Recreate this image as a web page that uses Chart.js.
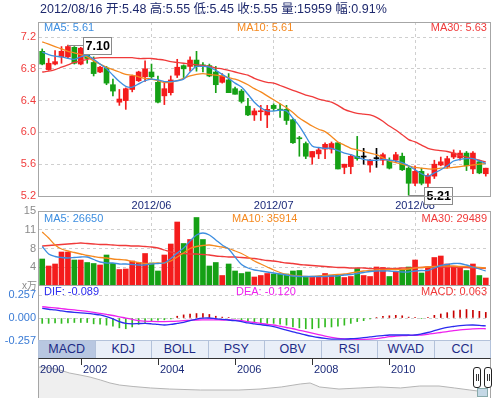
<!DOCTYPE html>
<html><head><meta charset="utf-8">
<script src="https://cdn.jsdelivr.net/npm/chart.js@4"></script>
<style>
body{margin:0;background:#fff;overflow:hidden;font-family:"Liberation Sans",Arial,"Noto Sans CJK SC",sans-serif;}
#wrap{position:relative;width:493px;height:398px;overflow:hidden;}
canvas{position:absolute;left:0;}
.t{position:absolute;white-space:nowrap;font-size:11px;line-height:13px;}
.frame{position:absolute;border:1px solid #a6a6a6;box-sizing:border-box;pointer-events:none;}
#tabs{position:absolute;left:38px;top:340px;width:453px;height:19px;display:flex;background:#e9eff8;border:1px solid #b3c2da;box-sizing:border-box;}
#tabs div{flex:1;text-align:center;font-size:12.5px;line-height:17px;color:#1c2a86;border-right:1px solid #b3c2da;}
#tabs div:last-child{border-right:none;}
#tabs div.on{background:#b8c7e1;}
.handle{position:absolute;width:8px;height:21px;border:1px solid #222;border-radius:3px;background:#fff;box-sizing:border-box;}
.handle:before,.handle:after{content:"";position:absolute;top:6px;width:1px;height:7px;background:#333;}
.handle:before{left:2px}.handle:after{left:4px}
</style></head>
<body><div id="wrap">
<canvas id="cMain" width="493" height="190" style="top:22px"></canvas>
<canvas id="cVol" width="493" height="83" style="top:203px"></canvas>
<canvas id="cMacd" width="493" height="71" style="top:278px"></canvas>
<canvas id="cNav" width="493" height="39" style="top:359px"></canvas>
<div class="frame" style="left:38px;top:22px;width:453px;height:175px"></div>
<div class="frame" style="left:38px;top:211px;width:453px;height:75px"></div>
<div class="frame" style="left:38px;top:285px;width:453px;height:56px"></div>
<div id="tabs"></div>
<div class="frame" style="left:38px;top:358px;width:453px;height:41px;border-top:1px solid #333;border-bottom:none"></div>
<div style="position:absolute;left:477px;top:388px;width:11px;height:9px;background:#c4d8e6;border:1px solid #8aa;box-sizing:border-box"></div>
<div class="handle" style="left:473px;top:367px"></div>
<div class="handle" style="left:484px;top:367px"></div>
<div class="t" id="title" style="left:40px;top:2px;font-size:12.5px;line-height:15px;color:#1f2a6e"></div>
<div class="t" style="left:44px;top:21px;color:#3d8ee0">MA5: 5.61</div>
<div class="t" style="left:237px;top:21px;color:#f5891f">MA10: 5.61</div>
<div class="t" style="right:6px;top:21px;color:#f03a3a">MA30: 5.63</div>
<div class="t" style="left:44px;top:212px;color:#3d8ee0">MA5: 26650</div>
<div class="t" style="left:232px;top:212px;color:#f5891f">MA10: 35914</div>
<div class="t" style="right:6px;top:212px;color:#f03a3a">MA30: 29489</div>
<div class="t" style="left:22px;top:279px;color:#8a8a8a;font-size:10px">x万</div>
<div class="t" style="left:44px;top:285px;color:#2b2bef">DIF: -0.089</div>
<div class="t" style="left:236px;top:285px;color:#ee22ee">DEA: -0.120</div>
<div class="t" style="right:6px;top:285px;color:#f03a3a">MACD: 0.063</div>
</div>
<script>
const dates = ['2012/05/09','2012/05/10','2012/05/11','2012/05/14','2012/05/15','2012/05/16','2012/05/17','2012/05/18','2012/05/21','2012/05/22','2012/05/23','2012/05/24','2012/05/25','2012/05/28','2012/05/29','2012/05/30','2012/05/31',
'2012/06/01','2012/06/04','2012/06/05','2012/06/06','2012/06/07','2012/06/08','2012/06/11','2012/06/12','2012/06/13','2012/06/14','2012/06/15','2012/06/18','2012/06/19','2012/06/20','2012/06/21','2012/06/25','2012/06/26','2012/06/27','2012/06/28',
'2012/07/02','2012/07/03','2012/07/04','2012/07/05','2012/07/06','2012/07/09','2012/07/10','2012/07/11','2012/07/12','2012/07/13','2012/07/16','2012/07/17','2012/07/18','2012/07/19','2012/07/20','2012/07/23','2012/07/24','2012/07/25','2012/07/26','2012/07/27','2012/07/30','2012/07/31',
'2012/08/01','2012/08/02','2012/08/03','2012/08/06','2012/08/07','2012/08/08','2012/08/09','2012/08/10','2012/08/13','2012/08/14','2012/08/15','2012/08/16'];
const openP = [7.02,6.79,6.86,6.95,6.95,7.07,6.86,7.01,6.88,6.76, 6.81,6.60,6.38,6.40,6.54,6.65,6.70,6.76,6.63,6.46, 6.50,6.72,6.84,6.83,6.91,6.85,6.84,6.76,6.63,6.66, 6.55,6.52,6.33,6.22,6.26,6.22,6.34,6.29,6.29,6.16, 5.93,5.86,5.69,5.73,5.79,5.79,5.87,5.56,5.57,5.70, 5.69,5.59,5.67,5.65,5.65,5.65,5.70,5.55,5.36,5.51, 5.36,5.45,5.59,5.57,5.69,5.68,5.74,5.54,5.63,5.48];
const highP = [7.05,6.93,7.03,7.08,7.10,7.08,7.07,7.03,6.95,6.83, 6.83,6.67,6.54,6.56,6.72,6.77,6.90,6.86,6.71,6.64, 6.71,6.92,6.85,6.95,7.02,6.88,6.86,6.83,6.74,6.74, 6.57,6.54,6.43,6.30,6.34,6.34,6.36,6.36,6.34,6.17, 5.95,5.88,5.76,5.81,5.87,5.88,5.87,5.60,5.72,5.95, 5.80,5.66,5.80,5.74,5.68,5.75,5.74,5.57,5.58,5.55, 5.48,5.65,5.69,5.70,5.78,5.77,5.76,5.76,5.65,5.55];
const lowP = [6.85,6.78,6.85,6.87,6.93,6.86,6.85,6.87,6.71,6.75, 6.60,6.46,6.34,6.29,6.51,6.64,6.64,6.68,6.37,6.35, 6.47,6.69,6.69,6.77,6.77,6.76,6.70,6.50,6.62,6.50, 6.48,6.37,6.21,6.15,6.15,6.06,6.27,6.19,6.10,5.86, 5.70,5.67,5.60,5.67,5.67,5.74,5.54,5.48,5.48,5.65, 5.60,5.50,5.56,5.59,5.54,5.62,5.52,5.21,5.33,5.34, 5.30,5.42,5.58,5.55,5.67,5.65,5.52,5.48,5.48,5.45];
const closeP = [6.86,6.87,6.89,7.02,7.08,6.87,7.06,6.93,6.74,6.82, 6.62,6.52,6.42,6.55,6.71,6.76,6.80,6.70,6.38,6.55, 6.66,6.82,6.80,6.91,6.83,6.83,6.71,6.60,6.71,6.50, 6.48,6.39,6.22,6.27,6.27,6.29,6.30,6.28,6.15,5.87, 5.92,5.70,5.76,5.78,5.85,5.86,5.54,5.60,5.70,5.67, 5.69,5.65,5.67,5.72,5.55,5.72,5.53,5.36,5.51,5.36, 5.46,5.60,5.63,5.67,5.74,5.74,5.58,5.74,5.49,5.55];
const ma5 = [7.01,6.98,6.96,6.95,6.93,6.92,6.95,6.97,6.92,6.86, 6.80,6.72,6.64,6.58,6.57,6.61,6.65,6.67,6.66,6.64, 6.64,6.65,6.67,6.76,6.83,6.83,6.82,6.78,6.73,6.68, 6.62,6.57,6.48,6.38,6.31,6.27,6.27,6.28,6.27,6.18, 6.08,5.95,5.83,5.81,5.80,5.80,5.77,5.74,5.72,5.69, 5.66,5.65,5.65,5.66,5.65,5.64,5.62,5.58,5.53,5.48, 5.45,5.49,5.53,5.58,5.64,5.66,5.67,5.67,5.64,5.61];
const ma10 = [7.14,7.11,7.08,7.05,7.02,7.00,6.98,6.95,6.90,6.86, 6.82,6.79,6.76,6.73,6.72,6.70,6.68,6.67,6.65,6.63, 6.63,6.65,6.68,6.71,6.73,6.74,6.73,6.72,6.71,6.69, 6.67,6.64,6.60,6.55,6.51,6.46,6.41,6.36,6.31,6.25, 6.18,6.13,6.08,6.04,6.01,5.95,5.88,5.84,5.80,5.78, 5.76,5.74,5.72,5.68,5.64,5.62,5.60,5.58,5.56,5.55, 5.54,5.54,5.55,5.55,5.56,5.57,5.58,5.59,5.60,5.61];
const ma30 = [6.76,6.77,6.79,6.82,6.85,6.88,6.90,6.92,6.93,6.94, 6.94,6.94,6.94,6.94,6.94,6.93,6.93,6.93,6.92,6.91, 6.89,6.88,6.87,6.86,6.85,6.84,6.83,6.81,6.80,6.78, 6.76,6.74,6.72,6.68,6.65,6.63,6.62,6.59,6.56,6.53, 6.50,6.47,6.45,6.42,6.40,6.38,6.34,6.29,6.26,6.24, 6.23,6.22,6.19,6.14,6.08,6.03,5.97,5.91,5.88,5.84, 5.80,5.78,5.77,5.76,5.74,5.71,5.69,5.67,5.65,5.63];
const volume = [5.4,4.0,4.4,6.8,6.8,5.2,5.2,4.7,4.5,4.2, 6.2,4.5,3.3,3.4,5.0,4.7,6.5,4.6,3.0,6.2, 8.4,12.8,8.5,9.3,13.7,9.3,4.0,4.7,2.1,4.4, 3.0,2.5,2.8,1.8,2.1,2.5,2.4,2.4,2.4,3.0, 3.1,1.8,1.9,1.8,2.5,2.1,2.3,1.7,1.9,3.5, 2.1,1.9,3.8,3.7,1.9,2.8,3.3,3.8,5.2,2.6, 3.8,5.7,6.0,4.4,3.8,3.7,3.1,4.4,2.1,1.6];
const volMa5 = [7.9,6.4,5.9,5.7,5.6,5.7,5.8,5.8,5.3,4.8, 4.6,4.6,4.4,4.4,4.3,4.2,4.2,4.4,4.5,4.6, 5.5,6.6,7.6,9.0,10.2,10.6,10.2,9.2,8.2,7.4, 5.8,4.3,3.6,3.2,3.0,2.8,2.6,2.4,2.2,2.0, 1.9,1.9,1.9,1.9,1.9,2.0,2.0,2.2,2.3,2.5, 2.7,2.9,3.0,3.0,3.0,2.9,2.8,2.8,3.0,3.1, 3.1,3.6,4.1,4.3,4.5,4.5,4.2,3.8,3.4,3.0];
const volMa10 = [10.8,9.6,8.2,7.4,7.0,6.7,6.4,6.1,5.9,5.7, 5.6,5.4,5.3,5.2,4.9,4.7,4.5,4.5,4.6,4.6, 5.0,5.8,6.6,7.5,7.9,8.1,8.2,8.0,7.8,7.5, 7.0,6.5,5.8,5.0,4.4,3.8,3.2,2.7,2.3,2.1, 2.0,1.9,1.9,2.0,2.1,2.2,2.3,2.4,2.6,2.8, 3.0,3.1,3.2,3.2,3.3,3.3,3.3,3.4,3.6,3.7, 3.8,3.9,4.0,4.0,4.0,3.9,3.9,3.8,3.7,3.6];
const volMa30 = [8.0,8.1,8.2,8.3,8.4,8.5,8.6,8.5,8.4,8.3, 8.3,8.2,8.1,8.1,8.0,8.0,7.9,7.8,7.6,7.2, 6.8,6.5,6.5,6.4,6.4,6.3,6.2,6.0,5.9,5.8, 5.8,5.7,5.6,5.5,5.3,5.1,5.0,4.8,4.6,4.5, 4.3,4.2,4.1,4.0,3.9,3.8,3.7,3.7,3.6,3.6, 3.6,3.5,3.5,3.5,3.5,3.5,3.6,3.6,3.7,3.7, 3.8,3.8,3.8,3.8,3.8,3.7,3.7,3.6,3.6,3.5];
const dif = [0.108,0.098,0.09,0.08,0.07,0.063,0.058,0.052,0.044,0.034, 0.015,-0.01,-0.04,-0.06,-0.065,-0.062,-0.06,-0.065,-0.072,-0.078, -0.072,-0.06,-0.048,-0.03,-0.012,-0.002,0.0,-0.008,-0.015,-0.022, -0.03,-0.04,-0.055,-0.065,-0.075,-0.085,-0.097,-0.115,-0.135,-0.155, -0.172,-0.19,-0.205,-0.218,-0.228,-0.235,-0.237,-0.235,-0.232,-0.227, -0.22,-0.212,-0.203,-0.196,-0.19,-0.19,-0.19,-0.19,-0.19,-0.178, -0.162,-0.142,-0.122,-0.105,-0.095,-0.086,-0.08,-0.078,-0.082,-0.089];
const dea = [0.126,0.12,0.113,0.105,0.097,0.09,0.082,0.074,0.064,0.052, 0.04,0.028,0.012,0.0,-0.015,-0.03,-0.035,-0.038,-0.04,-0.04, -0.038,-0.035,-0.03,-0.026,-0.022,-0.021,-0.021,-0.021,-0.022,-0.022, -0.025,-0.03,-0.04,-0.05,-0.06,-0.07,-0.078,-0.092,-0.106,-0.12, -0.137,-0.153,-0.17,-0.187,-0.203,-0.217,-0.227,-0.233,-0.237,-0.238, -0.238,-0.236,-0.23,-0.22,-0.209,-0.203,-0.198,-0.195,-0.192,-0.19, -0.182,-0.172,-0.162,-0.152,-0.14,-0.132,-0.126,-0.121,-0.118,-0.12];
const macdHist = [-0.06,-0.06,-0.055,-0.06,-0.055,-0.05,-0.05,-0.05,-0.065,-0.07, -0.08,-0.09,-0.11,-0.12,-0.10,-0.07,-0.05,-0.03,-0.025,-0.02, -0.01,0.02,0.035,0.045,0.05,0.05,0.04,0.02,0.01,0.005, -0.005,-0.02,-0.03,-0.05,-0.06,-0.06,-0.06,-0.07,-0.08,-0.10, -0.11,-0.12,-0.12,-0.11,-0.10,-0.10,-0.09,-0.08,-0.06,-0.04, -0.03,-0.01,0.005,0.02,0.025,0.03,0.025,0.01,0.005,-0.005, 0.005,0.03,0.045,0.06,0.08,0.09,0.095,0.085,0.075,0.063];
const priceTicks = [5.2, 5.6, 6.0, 6.4, 6.8, 7.2];
const volTicks = [3.75, 7.5, 11.25, 15];
const macdTicks = [-0.257, 0, 0.257];
const navYears = [2000.88,2001.2,2001.45,2001.7,2001.97,2002.23,2002.5,2002.75,2003.0,2003.35,2003.8,2004.3,2005.1,2006.1,2006.65,2007.2,2007.7,2007.95,2008.2,2008.7,2009.25,2009.75,2010.3,2010.8,2011.3,2011.7,2012.1,2012.3];
const navValues = [31.8,30.8,28.7,25.6,23.6,21.5,18.5,15.4,13.3,11.8,10.3,9.2,8.2,8.2,9.2,11.3,14.4,15.4,11.3,9.2,10.3,11.3,10.3,12.3,12.3,10.3,8.2,7.2];
const navTickYears = [2000.88, 2002, 2004, 2006, 2008, 2010];
const navTickLabels = ['2000', '2002', '2004', '2006', '2008', '2010'];
const tabNames = ['MACD','KDJ','BOLL','PSY','OBV','RSI','WVAD','CCI'];
const titleParts = [['', '2012/08/16'], ['开', '5.48'], ['高', '5.55'], ['低', '5.45'], ['收', '5.55'], ['量', '15959'], ['幅', '0.91%']];

document.getElementById('title').textContent = titleParts.map(p => p[0] ? p[0] + ':' + p[1] : p[1]).join(' ');
const tabsEl = document.getElementById('tabs');
tabNames.forEach((n, i) => { const d = document.createElement('div'); d.textContent = n; if (i === 0) d.className = 'on'; tabsEl.appendChild(d); });

const UP = '#f41c1c', DOWN = '#15a015', FLAT = '#000000';
const GRID = '#cfcfcf';
const FONT = '"Liberation Sans", Arial, sans-serif';
const candleColor = closeP.map((c, i) => c > openP[i] ? UP : (c < openP[i] ? DOWN : FLAT));
const volColor = closeP.map((c, i) => c >= openP[i] ? UP : DOWN);
const monthStart = i => i > 0 && dates[i].slice(5, 7) !== dates[i - 1].slice(5, 7);

const yFit = w => (s) => { s.width = w; s.paddingTop = 0; s.paddingBottom = 0; };
const baseOpts = (padding) => ({
  responsive: false, animation: false, devicePixelRatio: 1, events: [],
  layout: { padding },
  plugins: { legend: { display: false }, tooltip: { enabled: false } }
});
const lineDs = (data, color, yID) => ({ type: 'line', data, borderColor: color, borderWidth: 1.3, pointRadius: 0, tension: 0.3, fill: false, yAxisID: yID || 'y' });
const monthGridX = (showLabels) => ({
  type: 'category', offset: true,
  grid: { display: true, offset: false, drawTicks: false, color: c => monthStart(c.index) ? GRID : 'rgba(0,0,0,0)' },
  border: { display: false, dash: [3, 3] },
  ticks: showLabels ? { display: true, autoSkip: false, maxRotation: 0, minRotation: 0, padding: 3, color: '#1b2a7a', font: { size: 11, family: FONT },
    callback: (v, i) => monthStart(i) ? dates[i].slice(0, 7) : '' } : { display: false },
  afterFit: s => { s.height = showLabels ? 16 : 0; s.paddingLeft = 0; s.paddingRight = 0; }
});

const extremaPlugin = {
  id: 'extrema',
  afterDatasetsDraw(chart) {
    const { ctx } = chart; const x = chart.scales.x, y = chart.scales.y;
    let hi = 0, lo = 0;
    highP.forEach((v, i) => { if (v > highP[hi]) hi = i; });
    lowP.forEach((v, i) => { if (v < lowP[lo]) lo = i; });
    const draw = (i, v) => {
      const px = x.getPixelForValue(i), py = Math.round(y.getPixelForValue(v)) + 0.5;
      const text = v.toFixed(2);
      ctx.save();
      ctx.font = 'bold 12.5px ' + FONT;
      const w = Math.round(ctx.measureText(text).width + 4), h = 17;
      const bx = Math.round(px + 15) + 0.5, by = Math.round(py - h / 2);
      ctx.strokeStyle = '#8a8a8a'; ctx.lineWidth = 1;
      ctx.beginPath(); ctx.moveTo(px, py); ctx.lineTo(bx, py); ctx.stroke();
      ctx.fillStyle = '#fff'; ctx.fillRect(bx, by + 0.5, w, h); ctx.strokeRect(bx, by + 0.5, w, h);
      ctx.fillStyle = '#000'; ctx.textBaseline = 'middle'; ctx.textAlign = 'left';
      ctx.fillText(text, bx + 2, by + h / 2 + 1.5);
      ctx.restore();
    };
    draw(hi, highP[hi]); draw(lo, lowP[lo]);
  }
};

new Chart(document.getElementById('cMain'), {
  type: 'bar',
  data: {
    labels: dates,
    datasets: [
      lineDs(ma5, '#3d8ee0'), lineDs(ma10, '#f5891f'), lineDs(ma30, '#f03a3a'),
      { type: 'bar', data: openP.map((o, i) => [o, closeP[i]]), backgroundColor: candleColor, borderWidth: 0, barThickness: 5, minBarLength: 1, grouped: false },
      { type: 'bar', data: lowP.map((l, i) => [l, highP[i]]), backgroundColor: candleColor, borderWidth: 0, barThickness: 1, grouped: false }
    ]
  },
  options: Object.assign(baseOpts({ left: 0, right: 4, top: 0, bottom: 0 }), {
    scales: {
      x: monthGridX(true),
      y: { min: 5.2, max: 7.389,
        afterBuildTicks: s => { s.ticks = priceTicks.map(v => ({ value: v })); },
        afterFit: yFit(39),
        grid: { color: GRID, drawTicks: false }, border: { display: false, dash: [3, 3] },
        ticks: { padding: 3, color: '#f03c3c', font: { size: 11, family: FONT }, callback: v => v.toFixed(1) } }
    }
  }),
  plugins: [extremaPlugin]
});

new Chart(document.getElementById('cVol'), {
  type: 'bar',
  data: {
    labels: dates,
    datasets: [
      lineDs(volMa5, '#3d8ee0'), lineDs(volMa10, '#f5891f'), lineDs(volMa30, '#f03a3a'),
      { type: 'bar', data: volume, backgroundColor: volColor, borderWidth: 0, barThickness: 5, grouped: false }
    ]
  },
  options: Object.assign(baseOpts({ left: 0, right: 4, top: 8, bottom: 0 }), {
    scales: {
      x: monthGridX(false),
      y: { min: 0, max: 15,
        afterBuildTicks: s => { s.ticks = volTicks.map(v => ({ value: v })); },
        afterFit: yFit(39),
        grid: { color: GRID, drawTicks: false }, border: { display: false, dash: [3, 3] },
        ticks: { padding: 3, color: '#8a8a8a', font: { size: 11, family: FONT }, callback: v => String(Math.round(v)) } }
    }
  })
});

new Chart(document.getElementById('cMacd'), {
  type: 'bar',
  data: {
    labels: dates,
    datasets: [
      lineDs(dif, '#2b2bef'), lineDs(dea, '#ee22ee'),
      { type: 'bar', data: macdHist, backgroundColor: macdHist.map(v => v >= 0 ? '#c80000' : '#33bb22'), borderWidth: 0, barThickness: 1, grouped: false }
    ]
  },
  options: Object.assign(baseOpts({ left: 0, right: 4, top: 8, bottom: 8 }), {
    scales: {
      x: { type: 'category', offset: true, display: true, grid: { display: false }, border: { display: false }, ticks: { display: false }, afterFit: s => { s.height = 0; } },
      y: { min: -0.257, max: 0.358,
        afterBuildTicks: s => { s.ticks = macdTicks.map(v => ({ value: v })); },
        afterFit: yFit(39),
        grid: { color: GRID, drawTicks: false }, border: { display: false, dash: [3, 3] },
        ticks: { padding: 3, color: '#3a7bd5', font: { size: 11, family: FONT }, callback: v => v.toFixed(3) } }
    }
  })
});

const navTicksPlugin = {
  id: 'navTicks',
  afterDraw(chart) {
    const { ctx, chartArea } = chart; const x = chart.scales.x;
    ctx.save();
    ctx.font = '11px ' + FONT; ctx.fillStyle = '#1b2a7a'; ctx.textBaseline = 'middle';
    ctx.strokeStyle = '#333'; ctx.lineWidth = 1;
    navTickYears.forEach((yr, i) => {
      const px = Math.round(x.getPixelForValue(yr)) + 0.5;
      ctx.beginPath(); ctx.moveTo(px, chartArea.top); ctx.lineTo(px, chartArea.top + 6); ctx.stroke();
      ctx.fillText(navTickLabels[i], px + 1.5, chartArea.top + 11);
    });
    ctx.restore();
  }
};
new Chart(document.getElementById('cNav'), {
  type: 'line',
  data: { datasets: [{ data: navYears.map((yr, i) => ({ x: yr, y: navValues[i] })), borderColor: '#b5b5b5', borderWidth: 1, backgroundColor: '#efefef', fill: 'origin', pointRadius: 0, tension: 0 }] },
  options: Object.assign(baseOpts({ left: 38, right: 2, top: 0, bottom: 0 }), {
    scales: {
      x: { type: 'linear', min: 2000.88, max: 2012.65, display: false },
      y: { min: 0, max: 40, display: false }
    }
  }),
  plugins: [navTicksPlugin]
});
</script>
</body></html>
